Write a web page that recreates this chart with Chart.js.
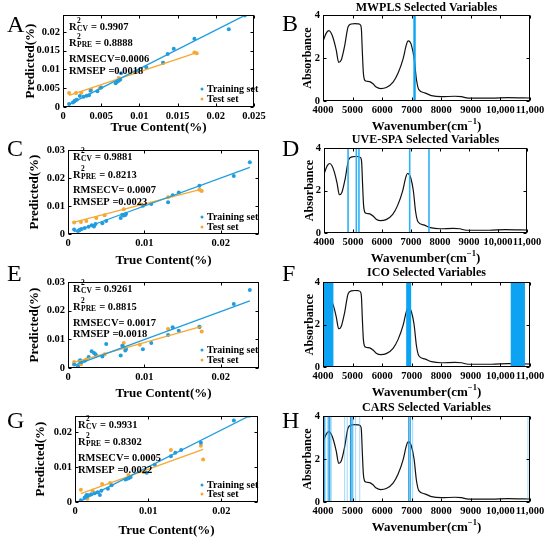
<!DOCTYPE html>
<html>
<head>
<meta charset="utf-8">
<script src="https://cdn.jsdelivr.net/npm/chart.js@4.4.1/dist/chart.umd.min.js"></script>
<style>
  html, body { margin: 0; padding: 0; background: #fff; }
  #fig { position: relative; width: 550px; height: 540px; overflow: hidden; }
  #fig canvas { position: absolute; }
</style>
</head>
<body>
<div id="fig"></div>
<script>
// ---- calibration data (true vs predicted content, %) ----
const trainTrue = [0.0008, 0.0013, 0.0015, 0.0016, 0.0018, 0.0022, 0.0027, 0.0031, 0.0034, 0.0036, 0.0045, 0.0050, 0.0069,
  0.0071, 0.0073, 0.0075, 0.0076, 0.0098, 0.0109, 0.0131, 0.0137, 0.0145, 0.0172, 0.0217, 0.0238];
const trainPredA = [0.0008, 0.0012, 0.0015, 0.0017, 0.0019, 0.0029, 0.0027, 0.0030, 0.0031, 0.0043, 0.0042, 0.0052, 0.0063,
  0.0068, 0.0070, 0.0073, 0.0090, 0.0096, 0.0106, 0.0118, 0.0141, 0.0155, 0.0182, 0.0207, 0.0244];
const trainPredC = [0.0016, 0.0011, 0.0013, 0.0016, 0.0018, 0.0021, 0.0026, 0.0031, 0.0027, 0.0036, 0.0038, 0.0046, 0.0057,
  0.0069, 0.0066, 0.0068, 0.0072, 0.0101, 0.0107, 0.0113, 0.0138, 0.0148, 0.0172, 0.0207, 0.0256];
const trainPredE = [0.0012, 0.0006, 0.0024, 0.0027, 0.0021, 0.0025, 0.0038, 0.0058, 0.0052, 0.0048, 0.0040, 0.0084, 0.0044,
  0.0078, 0.0072, 0.0061, 0.0066, 0.0065, 0.0087, 0.0115, 0.0142, 0.0130, 0.0144, 0.0223, 0.0272];
const trainPredG = [0.0005, 0.0012, 0.0017, 0.0020, 0.0019, 0.0022, 0.0025, 0.0028, 0.0020, 0.0032, 0.0038, 0.0048, 0.0064,
  0.0066, 0.0068, 0.0070, 0.0071, 0.0083, 0.0106, 0.0130, 0.0140, 0.0148, 0.0169, 0.0232, 0.0246];

const testTrue = [0.0008, 0.0017, 0.0024, 0.0037, 0.0048, 0.0073, 0.0094, 0.0131, 0.0172, 0.0175];
const testPredA = [0.0037, 0.0037, 0.0038, 0.0046, 0.0050, 0.0077, 0.0093, 0.0118, 0.0145, 0.0143];
const testPredC = [0.0041, 0.0043, 0.0046, 0.0057, 0.0067, 0.0088, 0.0107, 0.0131, 0.0158, 0.0154];
const testPredE = [0.0021, 0.0013, 0.0030, 0.0044, 0.0048, 0.0087, 0.0081, 0.0136, 0.0142, 0.0127];
const testPredG = [0.0035, 0.0009, 0.0032, 0.0051, 0.0054, 0.0077, 0.0085, 0.0148, 0.0160, 0.0121];

// fitted lines (end points)
const fitTrainX = [0.0008, 0.0238];
const fitTestX = [0.0008, 0.0175];
const fitTrainA = [0.0007, 0.0244], fitTestA = [0.0031, 0.0145];
const fitTrainC = [0.0008, 0.0238], fitTestC = [0.0042, 0.0160];
const fitTrainE = [0.0009, 0.0234], fitTestE = [0.0020, 0.0145];
const fitTrainG = [0.0003, 0.0245], fitTestG = [0.0024, 0.0150];

const statsA = ['= 0.9907', '= 0.8888', 'RMSECV=0.0006', 'RMSEP =0.0018'];
const statsC = ['= 0.9881', '= 0.8213', 'RMSECV= 0.0007', 'RMSEP =0.0023'];
const statsE = ['= 0.9261', '= 0.8815', 'RMSECV= 0.0017', 'RMSEP =0.0018'];
const statsG = ['= 0.9931', '= 0.8302', 'RMSECV= 0.0005', 'RMSEP =0.0022'];

const contentTicksA = [0, 0.005, 0.01, 0.015, 0.02, 0.025];
const contentTicks = [0, 0.01, 0.02];
const predTicksA = [0, 0.005, 0.01, 0.015, 0.02];
const predTicksCE = [0, 0.01, 0.02, 0.03];
const predTicksG = [0, 0.01, 0.02];

// ---- NIR spectrum ----
const waveNum = [4000, 4060, 4120, 4200, 4280, 4360, 4450, 4530, 4620, 4730, 4850, 4960, 5080, 5190, 5275, 5300, 5330, 5365,
  5400, 5450, 5580, 5690, 5800, 5950, 6140, 6370, 6540, 6710, 6820, 6880, 6940, 6990, 7080, 7160, 7240, 7440, 7670, 8000,
  8460, 8680, 8910, 9700, 10260, 11000];
const absorb = [2.76, 3.0, 3.18, 3.27, 3.15, 2.85, 2.35, 1.8, 1.92, 2.55, 3.45, 3.58, 3.6, 3.59, 3.52, 3.3, 2.3, 1.3,
  1.0, 0.93, 0.9, 0.8, 0.65, 0.58, 0.63, 0.88, 1.3, 1.97, 2.62, 2.8, 2.75, 2.6, 2.0, 1.0, 0.53, 0.38, 0.25, 0.2,
  0.22, 0.2, 0.13, 0.13, 0.16, 0.14];
const waveTicks = [4000, 5000, 6000, 7000, 8000, 9000, 10000, 11000];
const waveLabels = ['4000', '5000', '6000', '7000', '8000', '9000', '10,000', '11,000'];
const absTicks = [0, 2, 4];

// selected variables
const mwplsBand = [7050, 7140];
const uveSpaVars = [4830, 5115, 5205, 6955, 7620];
const icoBands = [[4000, 4360], [6810, 6990], [10340, 10830]];
const carsStrong = [4020, 4060, 4200, 4230, 4930, 4980, 6900, 6950, 10990];
const carsWeak = [4150, 4280, 4730, 4820, 5020, 5100, 5240, 7030, 10930];

// ---- styling ----
const SERIF = "'Liberation Serif', 'Times New Roman', serif";
const BLUE = '#1f9ddf';
const ORANGE = '#f6a832';
const BAND = '#0ba3f2';
const W = 275, H = 150;
const fnt = (size, weight = 'bold') => `${weight} ${size}px ${SERIF}`;
const xy = (xs, ys) => xs.map((x, i) => ({ x: x, y: ys[i] }));

function calibSets(predTrain, predTest, fitTrain, fitTest) {
  return [
    { type: 'line', data: xy(fitTrainX, fitTrain), borderColor: BLUE, borderWidth: 1.3, pointRadius: 0 },
    { type: 'line', data: xy(fitTestX, fitTest), borderColor: ORANGE, borderWidth: 1.3, pointRadius: 0 },
    { data: xy(trainTrue, predTrain), backgroundColor: BLUE, borderColor: BLUE, pointRadius: 2, borderWidth: 0 },
    { data: xy(testTrue, predTest), backgroundColor: ORANGE, borderColor: ORANGE, pointRadius: 2, borderWidth: 0 }
  ];
}

function bandSet(x1, x2, color) {
  return { type: 'line', data: [{ x: x1, y: 4 }, { x: x2, y: 4 }], fill: 'origin', backgroundColor: color,
    borderColor: color, borderWidth: 0, pointRadius: 0 };
}
function vline(x, color, w) {
  return { type: 'line', data: [{ x: x, y: 0 }, { x: x, y: 4 }], borderColor: color, borderWidth: w, pointRadius: 0 };
}
function curveSet() {
  return { type: 'line', data: xy(waveNum, absorb), borderColor: '#111', borderWidth: 1.2, pointRadius: 0,
    cubicInterpolationMode: 'monotone' };
}

const panels = [
  { col: 0, row: 0, letter: 'A', area: [63, 15, 254, 107], letterPos: [7, 32], yTitleX: 31, xTitleY: 128,
    statX: 69, statY: [27, 43, 59, 71], legY: [89, 99], stats: statsA,
    xMax: 0.025, yMax: 0.0245, xTicks: contentTicksA, yTicks: predTicksA,
    datasets: calibSets(trainPredA, testPredA, fitTrainA, fitTestA) },
  { col: 0, row: 1, letter: 'C', area: [68, 150, 259, 234], letterPos: [7, 156], yTitleX: 35, xTitleY: 261,
    statX: 73, statY: [157, 175, 190, 202], legY: [217, 227], stats: statsC,
    xMax: 0.025, yMax: 0.03, xTicks: contentTicks, yTicks: predTicksCE,
    datasets: calibSets(trainPredC, testPredC, fitTrainC, fitTestC) },
  { col: 0, row: 2, letter: 'E', area: [68, 282, 259, 368], letterPos: [7, 281], yTitleX: 35, xTitleY: 394,
    statX: 73, statY: [289, 307, 323, 334], legY: [350, 360], stats: statsE,
    xMax: 0.025, yMax: 0.03, xTicks: contentTicks, yTicks: predTicksCE,
    datasets: calibSets(trainPredE, testPredE, fitTrainE, fitTestE) },
  { col: 0, row: 3, letter: 'G', area: [75, 416, 258, 502], letterPos: [7, 428], yTitleX: 41, xTitleY: 531,
    statX: 78, statY: [425, 442, 458, 470], legY: [485, 494], stats: statsG,
    xMax: 0.025, yMax: 0.0245, xTicks: contentTicks, yTicks: predTicksG,
    datasets: calibSets(trainPredG, testPredG, fitTrainG, fitTestG) },
  { col: 1, row: 0, letter: 'B', area: [323, 15, 530, 101], letterPos: [282, 31], yTitleX: 308, xTitleY: 127,
    title: 'MWPLS Selected Variables', titleY: 8, spectrum: true,
    datasets: [bandSet(mwplsBand[0], mwplsBand[1], BAND), curveSet()] },
  { col: 1, row: 1, letter: 'D', area: [324, 148, 527, 233], letterPos: [282, 156], yTitleX: 310, xTitleY: 259,
    title: 'UVE-SPA Selected Variables', titleY: 140, spectrum: true,
    datasets: uveSpaVars.map(v => vline(v, '#2db0f6', 1.6)).concat([curveSet()]) },
  { col: 1, row: 2, letter: 'F', area: [323, 282, 530, 367], letterPos: [282, 281], yTitleX: 310, xTitleY: 393,
    title: 'ICO Selected Variables', titleY: 273, spectrum: true,
    datasets: icoBands.map(b => bandSet(b[0], b[1], BAND)).concat([curveSet()]) },
  { col: 1, row: 3, letter: 'H', area: [323, 416, 530, 502], letterPos: [282, 428], yTitleX: 308, xTitleY: 528,
    title: 'CARS Selected Variables', titleY: 408, spectrum: true,
    datasets: carsStrong.map(v => vline(v, '#1c9de6', 1.2))
      .concat(carsWeak.map(v => vline(v, 'rgba(60,170,240,0.4)', 1.2)), [curveSet()]) }
];

function drawDeco(c, p, ox, oy) {
  const ctx = c.ctx, a = c.chartArea;
  const xs = c.scales.x, ys = c.scales.y;
  ctx.save();
  // box and inward ticks
  ctx.strokeStyle = '#000';
  ctx.lineWidth = 1;
  const L = Math.round(a.left) + 0.5, R = Math.round(a.right) - 0.5;
  const T = Math.round(a.top) + 0.5, B = Math.round(a.bottom) - 0.5;
  ctx.strokeRect(L, T, R - L, B - T);
  ctx.beginPath();
  xs.ticks.forEach(tk => {
    const px = Math.round(xs.getPixelForValue(tk.value)) + 0.5;
    ctx.moveTo(px, B); ctx.lineTo(px, B - 3);
    ctx.moveTo(px, T); ctx.lineTo(px, T + 3);
  });
  ys.ticks.forEach(tk => {
    const py = Math.round(ys.getPixelForValue(tk.value)) + 0.5;
    ctx.moveTo(L, py); ctx.lineTo(L + 3, py);
    ctx.moveTo(R, py); ctx.lineTo(R - 3, py);
  });
  ctx.stroke();

  ctx.fillStyle = '#000';
  // panel letter
  ctx.font = fnt(24, 'normal');
  ctx.textAlign = 'left';
  ctx.textBaseline = 'alphabetic';
  ctx.fillText(p.letter, p.letterPos[0] - ox, p.letterPos[1] - oy);

  ctx.textBaseline = 'middle';
  const midX = (a.left + a.right) / 2, midY = (a.top + a.bottom) / 2;
  // y title
  ctx.save();
  ctx.translate(p.yTitleX - ox, midY);
  ctx.rotate(-Math.PI / 2);
  ctx.textAlign = 'center';
  ctx.font = fnt(p.spectrum ? 12 : 13);
  ctx.fillText(p.spectrum ? 'Absorbance' : 'Predicted(%)', 0, 0);
  ctx.restore();

  if (p.spectrum) {
    // title
    ctx.textAlign = 'center';
    ctx.font = fnt(12);
    ctx.fillText(p.title, midX, p.titleY - oy);
    // x title with superscript
    const ty = p.xTitleY - oy;
    ctx.font = fnt(13);
    const w1 = ctx.measureText('Wavenumber(cm').width;
    const w3 = ctx.measureText(')').width;
    ctx.font = fnt(8.5);
    const w2 = ctx.measureText('\u22121').width;
    let x = midX - (w1 + w2 + w3) / 2;
    ctx.textAlign = 'left';
    ctx.font = fnt(13);
    ctx.fillText('Wavenumber(cm', x, ty);
    ctx.font = fnt(8.5);
    ctx.fillText('\u22121', x + w1, ty - 5);
    ctx.font = fnt(13);
    ctx.fillText(')', x + w1 + w2, ty);
  } else {
    ctx.textAlign = 'center';
    ctx.font = fnt(13);
    ctx.fillText('True Content(%)', midX, p.xTitleY - oy);
    // statistics
    ctx.textAlign = 'left';
    const sx = p.statX - ox;
    [['CV', p.stats[0]], ['PRE', p.stats[1]]].forEach((s, i) => {
      const y = p.statY[i] - oy;
      ctx.font = fnt(10.5);
      ctx.fillText('R', sx, y);
      const w = ctx.measureText('R').width;
      ctx.font = fnt(7.5);
      ctx.fillText('2', sx + w + 0.5, y - 6);
      ctx.fillText(s[0], sx + w + 0.5, y + 2.5);
      const adv = Math.max(ctx.measureText('2').width, ctx.measureText(s[0]).width);
      ctx.font = fnt(10.5);
      ctx.fillText(' ' + s[1], sx + w + adv + 1, y);
    });
    ctx.font = fnt(10.5);
    ctx.fillText(p.stats[2], sx, p.statY[2] - oy);
    ctx.fillText(p.stats[3], sx, p.statY[3] - oy);
    // legend
    [['Training set', BLUE], ['Test set', ORANGE]].forEach((e, i) => {
      const y = p.legY[i] - oy;
      ctx.fillStyle = e[1];
      ctx.beginPath();
      ctx.arc(202 - ox, y, 1.5, 0, Math.PI * 2);
      ctx.fill();
      ctx.fillStyle = '#000';
      ctx.font = fnt(10);
      ctx.fillText(e[0], 207 - ox, y);
    });
  }
  ctx.restore();
}

const fig = document.getElementById('fig');
panels.forEach(p => {
  const ox = p.col * 275, oy = p.row * 135 - 10;
  const cv = document.createElement('canvas');
  cv.width = W; cv.height = H;
  cv.style.left = ox + 'px';
  cv.style.top = oy + 'px';
  cv.style.width = W + 'px';
  cv.style.height = H + 'px';
  fig.appendChild(cv);
  const l = p.area[0] - ox, t = p.area[1] - oy, r = p.area[2] - ox, b = p.area[3] - oy;
  const xTicks = p.spectrum ? waveTicks : p.xTicks;
  const yTicks = p.spectrum ? absTicks : p.yTicks;
  const tickFont = { family: SERIF, size: 10.5, weight: 'bold' };

  new Chart(cv, {
    type: 'scatter',
    data: { datasets: p.datasets },
    options: {
      responsive: false,
      animation: false,
      layout: { padding: { left: 0, top: t, right: W - r, bottom: 0 } },
      plugins: { legend: { display: false }, tooltip: { enabled: false } },
      scales: {
        x: {
          type: 'linear',
          min: p.spectrum ? 4000 : 0,
          max: p.spectrum ? 11000 : p.xMax,
          grid: { display: false, drawTicks: false },
          border: { display: false },
          afterFit: s => { s.height = H - b; },
          afterBuildTicks: s => { s.ticks = xTicks.map(v => ({ value: v })); },
          ticks: {
            autoSkip: false, maxRotation: 0, padding: 3, color: '#000', font: tickFont,
            callback: (v, i) => p.spectrum ? waveLabels[i] : String(v)
          }
        },
        y: {
          type: 'linear',
          min: 0,
          max: p.spectrum ? 4 : p.yMax,
          grid: { display: false, drawTicks: false },
          border: { display: false },
          afterFit: s => { s.width = l; },
          afterBuildTicks: s => { s.ticks = yTicks.map(v => ({ value: v })); },
          ticks: { autoSkip: false, padding: 3, color: '#000', font: tickFont, callback: v => String(v) }
        }
      }
    },
    plugins: [{ id: 'deco', afterDraw: c => drawDeco(c, p, ox, oy) }]
  });
});
</script>
</body>
</html>
